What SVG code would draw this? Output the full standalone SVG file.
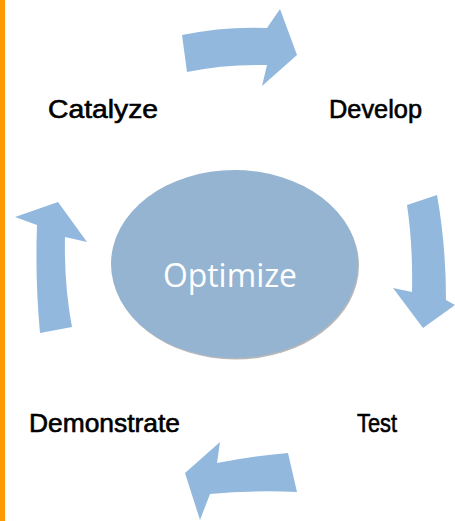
<svg xmlns="http://www.w3.org/2000/svg" width="455" height="521" viewBox="0 0 455 521">
  <style>
    .arrow { fill: #92b8de; }
    .label { font-family: "Liberation Sans", Arial, sans-serif; font-size: 25px; fill: #000; stroke: #000; stroke-width: 0.6px; }
    .center { font-family: "Open Sans", "Liberation Sans", sans-serif; font-size: 32px; fill: #fff; }
  </style>
  <rect x="0" y="0" width="455" height="521" fill="#fff"/>
  <rect x="0" y="0" width="5" height="521" fill="#ff9900"/>

  <g id="optimize">
    <ellipse cx="235.5" cy="265.5" rx="123.5" ry="94" fill="#b8b8b8"/>
    <ellipse cx="234.5" cy="264" rx="123.5" ry="94" fill="#94b4d2"/>
    <text class="center" x="230" y="287" text-anchor="middle" textLength="134" lengthAdjust="spacingAndGlyphs">Optimize</text>
  </g>

  <g id="catalyze">
    <text class="label" x="48" y="118" textLength="110" lengthAdjust="spacingAndGlyphs">Catalyze</text>
  </g>
  <g id="develop">
    <text class="label" x="329" y="118" textLength="93" lengthAdjust="spacingAndGlyphs">Develop</text>
  </g>
  <g id="test">
    <text class="label" x="357" y="432" textLength="40" lengthAdjust="spacingAndGlyphs">Test</text>
  </g>
  <g id="demonstrate">
    <text class="label" x="29" y="432" textLength="151" lengthAdjust="spacingAndGlyphs">Demonstrate</text>
  </g>

  <g id="connectors">
    <!-- top arrow: Catalyze -> Develop -->
    <path class="arrow" d="M182,35 Q225,26 267,28 L280,9 L297,55 L262,86 L267,65 Q225,64 187,72 Z"/>
    <!-- right arrow: Develop -> Test -->
    <path class="arrow" d="M407,205 L437,195 Q446,245 446,300 L455,305 L423,328 L393,288 L412,292 Q413,245 407,205 Z"/>
    <!-- bottom arrow: Test -> Demonstrate -->
    <path class="arrow" d="M288,453 L297,492 Q252,490 210,494 L200,520 L185,473 L220,442 L217,463 Q252,456 288,453 Z"/>
    <!-- left arrow: Demonstrate -> Catalyze -->
    <path class="arrow" d="M40,333 L72,327 Q64,285 65,237 L87,242 L58,202 L15,217 L37,225 Q35,280 40,333 Z"/>
  </g>
</svg>
